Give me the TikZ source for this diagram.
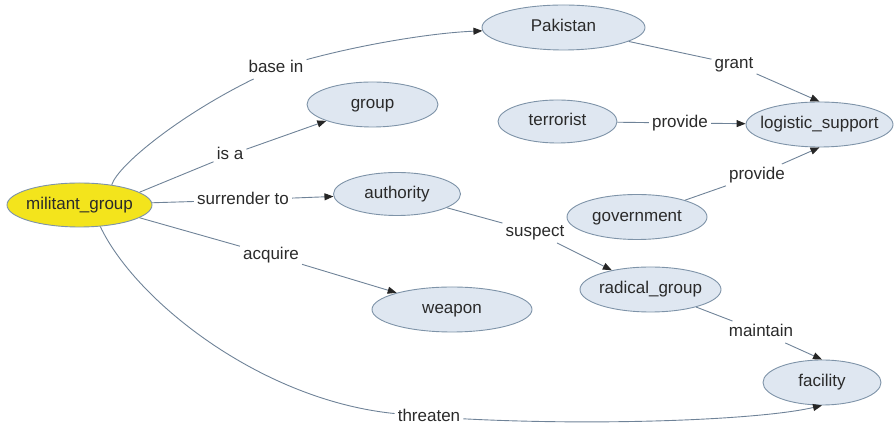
\documentclass[tikz,border=0pt]{standalone}
\usepackage{fontspec}
\setmainfont{Liberation Sans}
\usetikzlibrary{arrows.meta,shapes.geometric}
\definecolor{nodefill}{HTML}{DFE7F1}
\definecolor{nodeline}{HTML}{7E93A8}
\definecolor{edgecol}{HTML}{6F8398}
\definecolor{txt}{HTML}{2A2A2A}
\definecolor{mgfill}{HTML}{F3E41C}
\newcommand{\mk}[1]{\makebox[0pt]{#1}}
\tikzset{
  ell/.style={ellipse, draw=nodeline, fill=nodefill, line width=0.9pt, inner sep=0pt,
    text=txt, font=\fontsize{17}{17}\selectfont, text height=12pt, text depth=3.5pt},
  lbl/.style={inner sep=3pt, text=txt, font=\fontsize{17}{17}\selectfont, text height=12pt, text depth=3.5pt},
  edge/.style={draw=edgecol, line width=0.9pt},
  arr/.style={edge, -{Triangle[length=9pt,width=7pt,color=black!85]}},
}
\begin{document}
\begin{tikzpicture}[x=1pt,y=1pt]
\useasboundingbox (0,0) rectangle (894,430);
% nodes
\node[ell, fill=mgfill, minimum width=145pt, minimum height=44pt] (mg) at (79.5,225) {\mk{militant\_group}};
\node[ell, minimum width=163pt, minimum height=45pt] (pak) at (563.5,402.5) {\mk{Pakistan}};
\node[ell, minimum width=131pt, minimum height=45pt] (grp) at (372.5,325.5) {\mk{group}};
\node[ell, minimum width=127pt, minimum height=43pt] (auth) at (397,236) {\mk{authority}};
\node[ell, minimum width=119pt, minimum height=43pt] (ter) at (557.5,308.5) {\mk{terrorist}};
\node[ell, minimum width=147pt, minimum height=45pt] (ls) at (819.5,305.5) {\mk{logistic\_support}};
\node[ell, minimum width=140pt, minimum height=45pt] (gov) at (637,213) {\mk{government}};
\node[ell, minimum width=141pt, minimum height=45pt] (rad) at (650.5,140.5) {\mk{radical\_group}};
\node[ell, minimum width=160pt, minimum height=45pt] (wea) at (452,120.5) {\mk{weapon}};
\node[ell, minimum width=118pt, minimum height=45pt] (fac) at (822,47.5) {\mk{facility}};
% labels
\node[lbl] (bi) at (276,362) {base in};
\node[lbl] (isa) at (230,275) {is a};
\node[lbl] (sur) at (243,230) {surrender to};
\node[lbl] (gr) at (734,366) {grant};
\node[lbl] (pr1) at (680,307) {provide};
\node[lbl] (pr2) at (757,255) {provide};
\node[lbl] (sus) at (535,198) {suspect};
\node[lbl] (acq) at (271,175) {acquire};
\node[lbl] (mai) at (761,98) {maintain};
\node[lbl] (thr) at (429,13) {threaten};
% edges
\draw[edge] (mg.32) .. controls (118,265) and (180,315) .. (bi);
\draw[arr] (bi) .. controls (360,385) and (430,397) .. (pak);
\draw[edge] (mg.12) -- (isa);
\draw[arr] (isa) -- (grp);
\draw[edge] (mg) -- (sur);
\draw[arr] (sur) -- (auth);
\draw[edge] (mg.-12) -- (acq);
\draw[arr] (acq) -- (wea);
\draw[edge] (mg.-46) .. controls (135,130) and (260,30) .. (thr);
\draw[arr] (thr) .. controls (600,4) and (760,10) .. (fac.south);
\draw[edge] (pak) -- (gr);
\draw[arr] (gr) -- (ls.north);
\draw[edge] (ter) -- (pr1);
\draw[arr] (pr1) -- (ls);
\draw[edge] (gov) -- (pr2);
\draw[arr] (pr2) -- (ls.south);
\draw[edge] (auth) -- (sus);
\draw[arr] (sus) -- (rad);
\draw[edge] (rad) -- (mai);
\draw[arr] (mai) -- (fac.north);
\end{tikzpicture}
\end{document}
